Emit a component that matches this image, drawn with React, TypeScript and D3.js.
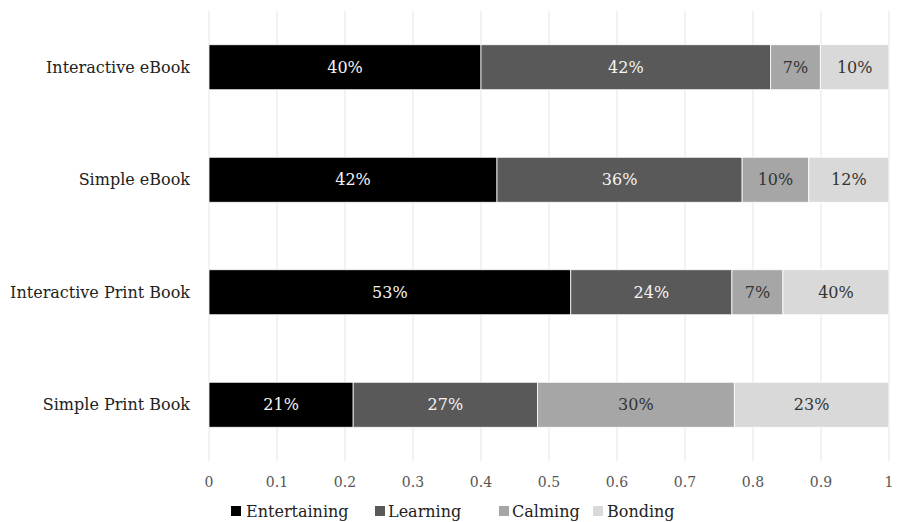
import React from "react";
import * as d3 from "d3";

const categories = ["Interactive eBook", "Simple eBook", "Interactive Print Book", "Simple Print Book"];
const seriesNames = ["Entertaining", "Learning", "Calming", "Bonding"];
const seriesColors = ["#000000", "#595959", "#a6a6a6", "#d9d9d9"];
const labelColors = ["#f4f4f4", "#f4f4f4", "#333333", "#333333"];
// segment widths (share of bar) per series, in category order
const entertaining = [0.4, 0.4235, 0.532, 0.212];
const learning = [0.426, 0.3605, 0.237, 0.271];
const calming = [0.073, 0.098, 0.075, 0.2895];
const bonding = [0.101, 0.118, 0.156, 0.2275];
// printed labels
const entertainingLabels = ["40%", "42%", "53%", "21%"];
const learningLabels = ["42%", "36%", "24%", "27%"];
const calmingLabels = ["7%", "10%", "7%", "30%"];
const bondingLabels = ["10%", "12%", "40%", "23%"];
const ticks = [0, 0.1, 0.2, 0.3, 0.4, 0.5, 0.6, 0.7, 0.8, 0.9, 1];

const W = 898;
const H = 522;
const FONT = "'DejaVu Serif', serif";

export default function App() {
  const x = d3.scaleLinear().domain([0, 1]).range([209, 889]);
  const y = d3
    .scaleBand<string>()
    .domain(categories)
    .range([11, 461])
    .paddingInner(0.6)
    .paddingOuter(0.3);

  const values = [entertaining, learning, calming, bonding];
  const labels = [entertainingLabels, learningLabels, calmingLabels, bondingLabels];

  const rows = categories.map((c, i) => {
    const obj: any = { cat: c };
    seriesNames.forEach((s, j) => (obj[s] = values[j][i]));
    return obj;
  });
  const stacked = d3.stack<any>().keys(seriesNames)(rows);

  const legendItems = [
    { sq: 231, tx: 246 },
    { sq: 375, tx: 388 },
    { sq: 499, tx: 512 },
    { sq: 593, tx: 607 },
  ];

  return (
    <svg
      width={W}
      height={H}
      style={{ position: "absolute", left: 0, top: 0, background: "#fff" }}
    >
      <rect width={W} height={H} fill="#fff" />
      {ticks.map((t) => (
        <line key={t} x1={x(t)} x2={x(t)} y1={11} y2={461} stroke="#ebebeb" strokeWidth={1.3} />
      ))}
      {stacked.map((layer, j) =>
        layer.map((d, i) => (
          <rect
            key={`${j}-${i}`}
            x={x(d[0])}
            width={x(d[1]) - x(d[0])}
            y={y(categories[i])}
            height={y.bandwidth()}
            fill={seriesColors[j]}
            stroke="#ffffff"
            strokeWidth={0.8}
          />
        ))
      )}
      {stacked.map((layer, j) =>
        layer.map((d, i) => (
          <text
            key={`l${j}-${i}`}
            x={(x(d[0]) + x(d[1])) / 2}
            y={(y(categories[i]) as number) + y.bandwidth() / 2}
            dy="0.35em"
            textAnchor="middle"
            fontFamily={FONT}
            fontSize={16}
            fill={labelColors[j]}
          >
            {labels[j][i]}
          </text>
        ))
      )}
      {categories.map((c) => (
        <text
          key={c}
          x={190}
          y={(y(c) as number) + y.bandwidth() / 2}
          dy="0.35em"
          textAnchor="end"
          fontFamily={FONT}
          fontSize={16}
          fill="#222"
        >
          {c}
        </text>
      ))}
      {ticks.map((t) => (
        <text key={`t${t}`} x={x(t)} y={487} textAnchor="middle" fontFamily={FONT} fontSize={14} fill="#555">
          {d3.format("")(t)}
        </text>
      ))}
      {seriesNames.map((s, j) => (
        <g key={s}>
          <rect x={legendItems[j].sq} y={506} width={10} height={10} fill={seriesColors[j]} />
          <text x={legendItems[j].tx} y={517} fontFamily={FONT} fontSize={16} fill="#222">
            {s}
          </text>
        </g>
      ))}
    </svg>
  );
}
